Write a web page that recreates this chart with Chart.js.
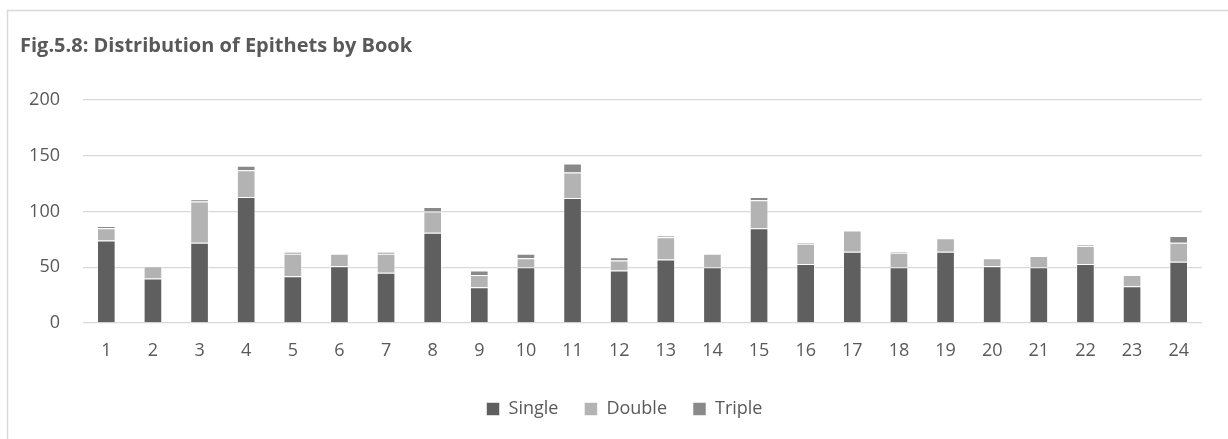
<!DOCTYPE html>
<html>
<head>
<meta charset="utf-8">
<title>Distribution of Epithets by Book</title>
<script src="https://cdn.jsdelivr.net/npm/chart.js@4/dist/chart.umd.min.js"></script>
<style>
  html, body { margin: 0; padding: 0; background: #ffffff; }
  #wrap { width: 1228px; height: 439px; position: relative; }
</style>
</head>
<body>
<div id="wrap"><canvas id="chart" width="1228" height="439"></canvas></div>
<script>
// Books of the epic, one bar per book
const books = ['1','2','3','4','5','6','7','8','9','10','11','12','13','14','15','16','17','18','19','20','21','22','23','24'];

// Epithet counts per book, split by epithet type
const single = [74, 40, 72, 113, 42, 51, 45, 81, 32, 50, 112, 47, 57, 50, 85, 53, 64, 50, 64, 51, 50, 53, 33, 55];
const double = [11, 11, 37, 24, 20, 11, 17, 19, 11, 8, 23, 9, 20, 12, 25, 18, 19, 13, 12, 7, 10, 16, 10, 17];
const triple = [2, 0, 2, 4, 2, 0, 2, 4, 4, 4, 8, 3, 1, 0, 3, 1, 0, 1, 0, 0, 0, 1, 0, 6];

// Value axis ticks
const yTicks = [0, 50, 100, 150, 200];

const textColor = '#595959';
const gridColor = '#d9d9d9';
const baseFont = "'Open Sans', 'Liberation Sans', sans-serif";

// Light outer frame of the chart box
const framePlugin = {
  id: 'frame',
  beforeDraw(chart) {
    const ctx = chart.ctx;
    ctx.save();
    ctx.fillStyle = '#ffffff';
    ctx.fillRect(0, 0, chart.width, chart.height);
    ctx.strokeStyle = gridColor;
    ctx.lineWidth = 1.5;
    ctx.beginPath();
    ctx.moveTo(7.5, chart.height + 2);
    ctx.lineTo(7.5, 10.5);
    ctx.lineTo(chart.width + 2, 10.5);
    ctx.stroke();
    ctx.restore();
  }
};

// Centre the legend under the plot area rather than the whole canvas
const legendShift = {
  id: 'legendShift',
  afterLayout(chart) {
    const lg = chart.legend;
    if (!lg) return;
    const dx = ((chart.chartArea.left + chart.chartArea.right) - (lg.left + lg.right)) / 2 - 18;
    lg.left += dx;
    lg.right += dx;
  }
};

const barStyle = { borderColor: 'rgba(255,255,255,0.55)', borderWidth: 1, barPercentage: 0.4, categoryPercentage: 1.0 };

new Chart(document.getElementById('chart'), {
  type: 'bar',
  data: {
    labels: books,
    datasets: [
      Object.assign({ label: 'Single', data: single, backgroundColor: '#5f5f5f' }, barStyle),
      Object.assign({ label: 'Double', data: double, backgroundColor: '#b3b3b3' }, barStyle),
      Object.assign({ label: 'Triple', data: triple, backgroundColor: '#898989' }, barStyle)
    ]
  },
  options: {
    responsive: false,
    animation: false,
    devicePixelRatio: 1,
    layout: { padding: { left: 20, right: 26, top: 0, bottom: 11 } },
    plugins: {
      title: {
        display: true,
        text: 'Fig.5.8: Distribution of Epithets by Book',
        align: 'start',
        color: textColor,
        font: { family: baseFont, size: 20, weight: 'bold' },
        padding: { top: 34, bottom: 42 }
      },
      legend: {
        position: 'bottom',
        labels: {
          color: textColor,
          font: { family: baseFont, size: 18 },
          boxWidth: 13,
          boxHeight: 13,
          padding: 26
        }
      },
      tooltip: { enabled: false }
    },
    scales: {
      x: {
        stacked: true,
        grid: { display: false, drawTicks: false },
        border: { display: false },
        ticks: { color: textColor, font: { family: baseFont, size: 18 }, padding: 17, maxRotation: 0 },
        afterFit(scale) { scale.height = 51; }
      },
      y: {
        stacked: true,
        min: 0,
        max: 200,
        grid: { color: gridColor, lineWidth: 1.3, drawTicks: false },
        border: { display: false },
        afterBuildTicks(scale) { scale.ticks = yTicks.map(v => ({ value: v })); },
        ticks: { color: textColor, font: { family: baseFont, size: 18 }, padding: 23 },
        afterFit(scale) { scale.width = 63; }
      }
    }
  },
  plugins: [framePlugin, legendShift]
});
</script>
</body>
</html>
